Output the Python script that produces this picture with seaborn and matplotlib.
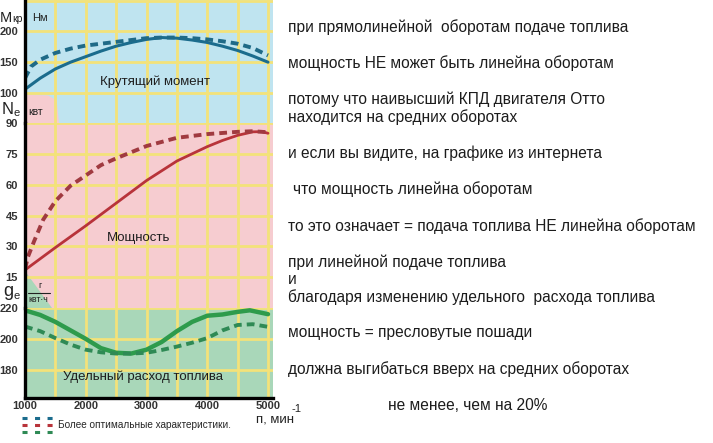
import matplotlib
matplotlib.use("Agg")
import matplotlib.pyplot as plt
from matplotlib.lines import Line2D
from matplotlib.patches import Polygon
import seaborn as sns

# --- data ---
# torque, Nm
torque_rpm = [1000, 1250, 1500, 1750, 2000, 2250, 2500, 2750, 3000, 3250, 3500, 3750, 4000, 4250, 4500, 4750, 5000]
torque = [106, 124, 139, 150, 159, 168, 176, 182, 187, 190, 189, 186, 182, 176, 169, 160, 150]
torque_opt_rpm = [1000, 1100, 1250, 1500, 1750, 2000, 2250, 2500, 2750, 3000, 3250, 3500, 3750, 4000, 4250, 4500, 4750, 5000]
torque_opt = [124, 143, 154, 165, 172, 177, 180, 183, 186, 189, 190, 190, 189, 187, 184, 180, 173, 161]

# power, kW
power_rpm = [1000, 1500, 2000, 2500, 3000, 3500, 4000, 4250, 4500, 4750, 4900, 5000]
power = [18.5, 29.4, 40, 51, 62, 71.5, 78.5, 81.5, 84, 85.7, 85.8, 85]
power_opt_rpm = [1000, 1050, 1150, 1300, 1500, 1750, 2000, 2250, 2500, 2750, 3000, 3500, 4000, 4500, 4750, 5000]
power_opt = [19, 25, 32.5, 43, 52, 59.5, 64.5, 69.5, 72.8, 75.8, 78.8, 82.8, 84.6, 85.7, 86, 85.5]

# specific fuel consumption, g/kWh
fuel_rpm = [1000, 1250, 1500, 1750, 2000, 2250, 2500, 2750, 3000, 3250, 3500, 3750, 4000, 4250, 4500, 4700, 5000]
fuel = [218.5, 215.5, 211, 205.5, 200, 194, 191, 190.5, 193, 198, 205, 211, 215, 215.8, 217.5, 218.5, 216]
fuel_opt_rpm = [1000, 1250, 1500, 1750, 2000, 2250, 2500, 2750, 3000, 3250, 3500, 3750, 4000, 4250, 4500, 4750, 5000]
fuel_opt = [208, 205, 200.5, 196.3, 193, 191.3, 190.5, 190.5, 191, 192.8, 195, 197.5, 200.5, 205.5, 209, 209.5, 207.8]

torque_ticks = [100, 150, 200]
power_ticks = [15, 30, 45, 60, 75, 90]
fuel_ticks = [180, 200, 220]
rpm_ticks = [1000, 2000, 3000, 4000, 5000]

notes = [
    (288, 27, "при прямолинейной  оборотам подаче топлива"),
    (288, 63, "мощность НЕ может быть линейна оборотам"),
    (288, 99, "потому что наивысший КПД двигателя Отто"),
    (288, 117, "находится на средних оборотах"),
    (288, 153, "и если вы видите, на графике из интернета"),
    (293, 189, "что мощность линейна оборотам"),
    (288, 226, "то это означает = подача топлива НЕ линейна оборотам"),
    (288, 262, "при линейной подаче топлива"),
    (288, 280, "и"),
    (288, 297, "благодаря изменению удельного  расхода топлива"),
    (288, 333, "мощность = пресловутые пошади"),
    (288, 369, "должна выгибаться вверх на средних оборотах"),
    (388, 406, "не менее, чем на 20%"),
]

sns.set_style("white")
plt.rcParams['font.family'] = ['Liberation Sans', 'DejaVu Sans']

W, H = 713, 443
fig = plt.figure(figsize=(W / 100, H / 100), dpi=100)

def px_axes(x0, y0, x1, y1):
    return fig.add_axes([x0 / W, 1 - y1 / H, (x1 - x0) / W, (y1 - y0) / H])

def ftext(x, y, s, **kw):
    kw.setdefault("va", "center")
    kw.setdefault("color", "#1e1e1e")
    return fig.text(x / W, 1 - y / H, s, **kw)

ax_t = px_axes(25, 0, 273, 123)
ax_p = px_axes(25, 123, 273, 308)
ax_g = px_axes(25, 308, 273, 398)

grid_col = "#f3e27a"
setup = [
    (ax_t, "#bfe4f0", (51.2, 251), torque_ticks + [250]),
    (ax_p, "#f6ccd0", (0, 90), power_ticks),
    (ax_g, "#a9d7b9", (161.7, 220), fuel_ticks),
]
for ax, fc, ylim, yt in setup:
    ax.set_facecolor(fc)
    ax.set_xlim(1000, 5082)
    ax.set_ylim(*ylim)
    ax.set_xticks(rpm_ticks)
    ax.set_xticks([1500, 2500, 3500, 4500], minor=True)
    ax.set_yticks(yt)
    ax.grid(True, which="both", color=grid_col, lw=2)
    ax.set_axisbelow(True)
    for s in ["top", "right", "bottom"]:
        ax.spines[s].set_visible(False)
    ax.spines["left"].set_color("black")
    ax.spines["left"].set_linewidth(2.4)
    ax.tick_params(axis="both", which="both", length=0)
    ax.tick_params(axis="y", pad=5, labelsize=8, labelcolor="#333333")
    ax.set_xlabel("")
    ax.set_ylabel("")

ax_t.set_yticklabels([str(v) for v in torque_ticks] + [""])
for lab in ax_t.get_yticklabels() + ax_p.get_yticklabels() + ax_g.get_yticklabels():
    lab.set_fontweight("bold")
ax_t.set_xticklabels([])
ax_p.set_xticklabels([])
ax_g.spines["bottom"].set_visible(True)
ax_g.spines["bottom"].set_color("black")
ax_g.spines["bottom"].set_linewidth(2.4)
ax_g.set_xticklabels([str(v) for v in rpm_ticks], fontsize=8, fontweight="bold", color="#333333")
ax_g.tick_params(axis="x", pad=2.5)

# little colour tabs behind the axis names
ax_t.add_patch(Polygon([(1000, 97), (1380, 96), (1520, 88), (1560, 51.2), (1000, 51.2)],
                       closed=True, fc="#f6ccd0", ec="none", zorder=0.5))
ax_p.add_patch(Polygon([(1000, 18), (1000, 0), (1440, 0)],
                       closed=True, fc="#a9d7b9", ec="none", zorder=0.5))

blue, blue_d = "#1b6c8d", "#1f6a87"
red, red_d = "#b8333a", "#a03a40"
green, green_d = "#2e9b4c", "#2f8a55"
dash = (0, (2.0, 1.3))

sns.lineplot(x=torque_rpm, y=torque, ax=ax_t, color=blue, lw=2.2)
sns.lineplot(x=torque_opt_rpm, y=torque_opt, ax=ax_t, color=blue_d, lw=2.8, linestyle=dash)
sns.lineplot(x=power_rpm, y=power, ax=ax_p, color=red, lw=2.0)
sns.lineplot(x=power_opt_rpm, y=power_opt, ax=ax_p, color=red_d, lw=2.8, linestyle=dash)
sns.lineplot(x=fuel_rpm, y=fuel, ax=ax_g, color=green, lw=3.2)
sns.lineplot(x=fuel_opt_rpm, y=fuel_opt, ax=ax_g, color=green_d, lw=2.8, linestyle=dash)
for ax in (ax_t, ax_p, ax_g):
    ax.set_xlim(1000, 5082)

# zone captions
ftext(155, 82, "Крутящий момент", ha="center", fontsize=9.5)
ftext(139, 238, "Мощность", ha="center", fontsize=9.5)
ftext(143, 377, "Удельный расход топлива", ha="center", fontsize=9.5)

# axis names
ftext(0, 18, "M", ha="left", fontsize=10.5, color="#222222")
ftext(12, 19, "кр", ha="left", fontsize=7.5, color="#222222")
ftext(32, 18, "Нм", ha="left", fontsize=8, color="#222222")
ftext(2, 110, "N", ha="left", fontsize=12, color="#222222")
ftext(13, 113, "e", ha="left", fontsize=8, color="#222222")
ftext(28, 112, "квт", ha="left", fontsize=7.5, color="#222222")
ftext(3, 292, "g", ha="left", fontsize=13, color="#222222")
ftext(13, 296, "e", ha="left", fontsize=8, color="#222222")
ftext(38, 286, "г", ha="left", fontsize=6.5, color="#222222")
fig.add_artist(Line2D([28 / W, 50 / W], [1 - 293 / H, 1 - 293 / H], color="#222222", lw=0.8))
ftext(28, 299, "квт·ч", ha="left", fontsize=6.3, color="#222222")
ftext(256, 420, "п, мин", ha="left", fontsize=9.5, color="#222222")
ftext(292, 409, "-1", ha="left", fontsize=8, color="#222222")

# legend for the dashed curves
handles = [Line2D([], [], color=c, lw=2.2, linestyle=(0, (1.65, 2.45))) for c in (blue, red, green_d)]
fig.legend(handles, [" ", "Более оптимальные характеристики.", " "],
           loc="upper left", bbox_to_anchor=(22 / W, 1 - 413 / H), frameon=False,
           fontsize=7.2, handlelength=3.1, handleheight=0.5, handletextpad=0.55,
           labelspacing=-0.3, borderpad=0, borderaxespad=0)

for x, y, s in notes:
    ftext(x, y, s, ha="left", fontsize=11.2, color="#1c1c1c")

fig.savefig("out.png", dpi=100)
